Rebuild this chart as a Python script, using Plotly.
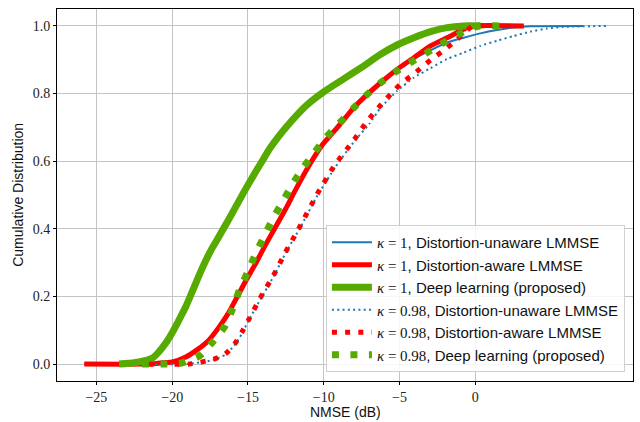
import plotly.graph_objects as go

# ---------------- data ----------------
# kappa = 1, Distortion-aware LMMSE (red solid)
aware1_x = [-25.8, -22.0, -21.0, -20.0, -19.14, -18.27, -17.6, -16.9, -16.3, -15.7, -15.1, -14.5,
            -13.9, -13.2, -12.5, -11.9, -11.0, -10.15, -9.0, -8.1, -7.24, -6.25, -5.15, -4.06,
            -2.96, -1.87, -0.77, -0.2, 3.2]
aware1_y = [0.0, 0.0, 0.002, 0.006, 0.02, 0.045, 0.07, 0.11, 0.15, 0.2, 0.25, 0.297,
            0.348, 0.404, 0.46, 0.512, 0.585, 0.645, 0.705, 0.754, 0.793, 0.832, 0.872, 0.906,
            0.941, 0.965, 0.99, 1.0, 1.0]

# kappa = 1, Distortion-unaware LMMSE (blue solid)
unaware1_x = [-25.8, -22.0, -21.0, -20.0, -19.14, -18.27, -17.6, -16.9, -16.3, -15.7, -15.1, -14.5,
              -13.9, -13.2, -12.5, -11.9, -11.0, -10.15, -9.0, -8.1, -7.24, -6.25, -5.15, -4.06,
              -2.96, -1.87, -0.77, 0.33, 1.43, 2.52, 3.62, 7.1]
unaware1_y = [0.0, 0.0, 0.002, 0.006, 0.02, 0.045, 0.07, 0.11, 0.15, 0.2, 0.25, 0.297,
              0.348, 0.404, 0.46, 0.512, 0.585, 0.645, 0.705, 0.754, 0.793, 0.832, 0.872, 0.903,
              0.928, 0.951, 0.965, 0.978, 0.988, 0.995, 0.999, 1.0]

# kappa = 1, Deep learning (green solid)
dl1_x = [-23.5, -22.5, -21.8, -21.3, -20.9, -20.46, -20.0, -19.58, -19.1, -18.7, -18.25, -17.83,
         -17.4, -16.95, -16.5, -16.18, -15.5, -15.0, -14.5, -14.0, -13.6, -13.0, -12.4,
         -11.7, -11.07, -10.0, -8.66, -7.35, -6.25, -5.1, -4.06, -2.96, -1.87, -0.77, 0.3]
dl1_y = [0.0, 0.004, 0.01, 0.018, 0.035, 0.06, 0.093, 0.128, 0.17, 0.212, 0.26, 0.302,
         0.34, 0.374, 0.41, 0.435, 0.49, 0.53, 0.568, 0.605, 0.635, 0.672, 0.705,
         0.74, 0.768, 0.805, 0.844, 0.882, 0.916, 0.945, 0.965, 0.983, 0.995, 1.0, 1.0]

# kappa = 0.98, Distortion-unaware LMMSE (blue dotted)
unaware98_x = [-21.5, -19.0, -17.3, -16.5, -15.9, -15.4, -14.97, -14.2, -13.3, -12.5, -11.6, -10.4,
               -9.2, -8.0, -7.0, -6.25, -5.15, -4.06, -2.96, -1.87, -0.77, 0.33, 1.43, 2.52,
               3.62, 4.72, 5.81, 8.67]
unaware98_y = [0.0, 0.0, 0.012, 0.028, 0.055, 0.09, 0.128, 0.19, 0.26, 0.33, 0.40, 0.5,
               0.585, 0.658, 0.71, 0.758, 0.808, 0.847, 0.875, 0.902, 0.921, 0.941, 0.956, 0.97,
               0.983, 0.992, 0.997, 1.0]

# kappa = 0.98, Distortion-aware LMMSE (red dotted)
aware98_x = [-21.6, -18.9, -17.28, -16.5, -15.9, -15.41, -14.97, -14.2, -13.32, -12.55, -11.67, -10.47,
             -9.27, -8.07, -7.12, -6.02, -5.43, -4.86, -4.16, -3.5, -2.84, -2.19, -1.53, -0.88,
             -0.22, 1.5]
aware98_y = [0.0, 0.0, 0.014, 0.03, 0.058, 0.094, 0.13, 0.195, 0.262, 0.329, 0.399, 0.5,
             0.589, 0.659, 0.719, 0.778, 0.805, 0.832, 0.854, 0.879, 0.903, 0.924, 0.948, 0.973,
             0.998, 1.0]

# kappa = 0.98, Deep learning (green squares)
dl98_x = [-22.0, -20.7, -19.4, -18.2, -17.3, -16.55, -16.0, -15.55, -15.02, -14.49, -13.93, -13.34,
          -12.68, -12.09, -11.4, -10.59, -9.82, -9.0, -8.1, -7.24, -6.25, -5.26, -4.16, -3.07,
          -1.97, -0.88, 0.22, 1.6]
dl98_y = [0.0, 0.0, 0.003, 0.024, 0.067, 0.11, 0.165, 0.22, 0.272, 0.327, 0.378, 0.431,
          0.483, 0.53, 0.578, 0.627, 0.672, 0.711, 0.754, 0.793, 0.832, 0.864, 0.895, 0.924,
          0.954, 0.98, 1.0, 1.0]

x_ticks = [-25, -20, -15, -10, -5, 0]
y_ticks = [0.0, 0.2, 0.4, 0.6, 0.8, 1.0]

BLUE = "#1f77b4"
RED = "#ff0000"
GREEN = "#56aa00"
SERIF = "Liberation Serif, DejaVu Serif, serif"
SANS = "Liberation Sans, Arial, sans-serif"


def lab(k, text):
    return (f'<span style="font-family:Liberation Serif"><i>κ</i> = {k}</span>, {text}')


fig = go.Figure()
series = [
    (unaware1_x, unaware1_y, BLUE, 2, "solid", lab("1", "Distortion-unaware LMMSE")),
    (aware1_x, aware1_y, RED, 5, "solid", lab("1", "Distortion-aware LMMSE")),
    (dl1_x, dl1_y, GREEN, 7, "solid", lab("1", "Deep learning (proposed)")),
    (unaware98_x, unaware98_y, BLUE, 2, "2px,3.3px", lab("0.98", "Distortion-unaware LMMSE")),
    (aware98_x, aware98_y, RED, 5, "5px,8.2px", lab("0.98", "Distortion-aware LMMSE")),
    (dl98_x, dl98_y, GREEN, 7, "7px,11.5px", lab("0.98", "Deep learning (proposed)")),
]
for xs, ys, c, w, d, name in series:
    fig.add_trace(go.Scatter(x=xs, y=ys, mode="lines",
                             line=dict(color=c, width=w, dash=d, shape="spline", smoothing=0.5),
                             name=name))

axis_common = dict(
    showline=True, linecolor="black", linewidth=1, mirror=True,
    ticks="outside", ticklen=3, tickcolor="black", tickwidth=1,
    showgrid=True, gridcolor="#c4c4c4", gridwidth=1, zeroline=False,
    tickfont=dict(family=SERIF, size=14, color="#222222"),
    automargin=False,
)

fig.update_layout(
    width=640, height=422,
    margin=dict(l=57, r=7, t=9, b=41),
    paper_bgcolor="white", plot_bgcolor="white",
    font=dict(family=SANS, size=14, color="#111111"),
    xaxis=dict(range=[-27.6, 10.4], tickmode="array", tickvals=x_ticks,
               ticktext=["\u2212" + str(abs(v)) if v < 0 else str(v) for v in x_ticks],
               **axis_common),
    yaxis=dict(range=[-0.05, 1.05], tickmode="array", tickvals=y_ticks,
               ticktext=[f"{v:.1f}" for v in y_ticks],
               **axis_common),
    legend=dict(x=0.986, y=0.024, xanchor="right", yanchor="bottom",
                bgcolor="rgba(255,255,255,0.85)", bordercolor="#d0d0d0", borderwidth=1,
                font=dict(family=SANS, size=15, color="#111111"),
                itemwidth=40, tracegroupgap=0),
    showlegend=True,
    annotations=[
        dict(text="NMSE (dB)", xref="paper", yref="paper", x=0.5, y=-0.083,
             xanchor="center", yanchor="middle", showarrow=False,
             font=dict(family=SANS, size=14, color="#111111")),
        dict(text="Cumulative Distribution", xref="paper", yref="paper", x=-0.068, y=0.5,
             xanchor="center", yanchor="middle", showarrow=False, textangle=-90,
             font=dict(family=SANS, size=14, color="#111111")),
    ],
)

fig.write_html("out.html", config={"displayModeBar": False},
               post_script="document.body.style.margin='0px';document.body.style.overflow='hidden';")
